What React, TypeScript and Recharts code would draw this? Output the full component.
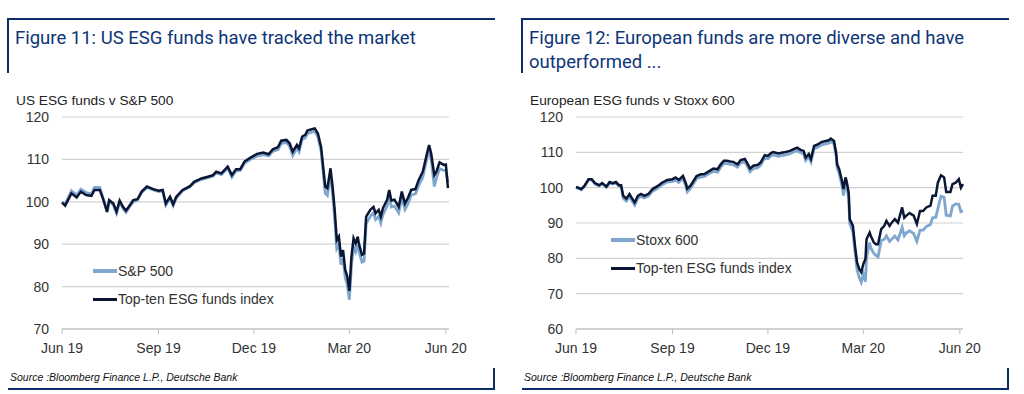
import { CartesianGrid, Line, LineChart, XAxis, YAxis } from "recharts";

const dayTicks = [0, 92, 183, 274, 366];
const monthLabels = ["Jun 19", "Sep 19", "Dec 19", "Mar 20", "Jun 20"];

// Figure 11 – days since start of Jun 19
const usDays = [
  0, 3, 9, 14, 18, 23, 28, 31, 36, 39, 43, 45, 49, 52, 55, 58, 61, 65, 68, 72, 76, 81, 87, 92, 96,
  99, 103, 106, 109, 115, 122, 126, 133, 139, 144, 147, 152, 158, 162, 166, 170, 174, 179, 186,
  192, 197, 201, 206, 209, 214, 217, 220, 224, 226, 229, 232, 234, 238, 241, 244, 247, 249, 251,
  253, 255, 256, 258, 260, 262, 264, 266, 268, 270, 272, 274, 276, 278, 280, 282, 283, 286, 288,
  290, 294, 297, 299, 302, 304, 306, 310, 312, 314, 317, 321, 324, 327, 330, 333, 337, 340, 344,
  348, 350, 352, 355, 357, 360, 364, 366, 368,
];
const usEsg = [
  99.8, 99.1, 102.0, 101.0, 102.4, 101.6, 101.4, 102.8, 102.8, 100.8, 97.7, 100.4, 99.6, 97.7,
  100.3, 98.9, 97.9, 99.3, 100.4, 100.6, 102.4, 103.6, 103.0, 102.6, 102.8, 99.6, 101.2, 99.4,
  101.2, 102.8, 103.7, 104.7, 105.5, 105.9, 106.3, 107.1, 106.7, 108.3, 106.3, 107.7, 107.7,
  109.5, 110.3, 111.3, 111.6, 111.2, 112.4, 112.9, 114.4, 114.6, 113.8, 111.8, 113.4, 112.6,
  115.4, 115.8, 116.8, 117.1, 117.3, 116.1, 113.0, 108.3, 103.6, 103.2, 106.3, 107.9, 103.6, 98.1,
  91.0, 91.8, 87.1, 88.6, 84.0, 82.4, 79.0, 87.1, 91.4, 90.2, 91.8, 90.2, 87.5, 87.8, 96.5, 98.1,
  98.8, 97.3, 98.1, 96.5, 98.5, 100.5, 102.8, 100.3, 100.5, 98.8, 102.4, 99.6, 101.0, 102.8, 103.0,
  105.1, 107.1, 111.4, 113.4, 111.4, 106.3, 107.1, 109.3, 108.7, 108.8, 103.2,
];
const sp500 = [
  100.0, 99.4, 102.6, 101.6, 103.0, 102.2, 101.8, 103.4, 103.4, 101.0, 97.5, 100.2, 99.2, 97.3,
  100.0, 98.5, 97.5, 99.0, 100.0, 100.4, 102.2, 103.4, 102.8, 102.4, 102.5, 99.2, 100.9, 99.1,
  100.9, 102.6, 103.5, 104.5, 105.3, 105.7, 106.0, 106.8, 106.4, 107.9, 105.8, 107.3, 107.4,
  109.1, 109.9, 110.8, 111.1, 110.8, 111.9, 112.3, 113.7, 114.0, 113.1, 110.9, 112.7, 111.8,
  114.7, 115.1, 116.1, 116.4, 116.6, 115.3, 112.0, 107.0, 102.0, 101.5, 104.8, 106.2, 102.0, 96.0,
  89.0, 90.0, 85.2, 86.6, 82.2, 80.4, 76.9, 85.0, 89.6, 88.2, 89.8, 88.4, 85.8, 86.0, 94.8, 96.6,
  97.4, 95.8, 96.6, 95.0, 97.0, 99.0, 101.3, 98.8, 99.0, 97.4, 100.9, 98.2, 99.6, 101.6, 101.9,
  103.8, 105.8, 110.3, 112.3, 110.0, 103.6, 105.6, 107.8, 107.4, 107.4, 104.6,
];

// Figure 12
const euDays = [
  0, 2, 5, 8, 12, 15, 18, 22, 25, 29, 32, 35, 38, 41, 43, 45, 48, 51, 53, 56, 59, 62, 65, 69, 73,
  78, 82, 87, 92, 95, 98, 102, 105, 106, 109, 111, 115, 119, 122, 127, 131, 135, 138, 141, 144,
  147, 150, 154, 157, 161, 163, 166, 169, 173, 176, 180, 183, 186, 188, 193, 196, 200, 204, 208,
  211, 214, 217, 219, 222, 224, 227, 231, 234, 238, 241, 243, 246, 248, 249, 251, 254, 255, 257,
  258, 260, 261, 264, 266, 268, 270, 272, 274, 276, 277, 280, 281, 284, 286, 288, 291, 294, 296,
  299, 301, 304, 307, 311, 313, 315, 318, 322, 325, 328, 331, 334, 338, 340, 343, 345, 348, 351,
  353, 357, 359, 362, 365, 367, 369,
];
const euEsg = [
  100.2, 100.0, 99.6, 100.5, 102.4, 102.4, 101.3, 100.7, 101.3, 100.3, 101.6, 101.3, 101.6, 100.7,
  100.7, 97.7, 96.9, 98.2, 97.2, 95.8, 97.7, 98.2, 97.7, 98.2, 99.6, 100.5, 101.4, 102.2, 102.4,
  102.9, 102.2, 103.3, 101.0, 99.7, 100.5, 101.4, 103.3, 103.8, 103.8, 104.7, 105.4, 105.2, 106.6,
  107.6, 107.6, 107.4, 107.3, 106.6, 107.8, 108.1, 107.1, 105.4, 106.2, 106.4, 107.1, 109.2,
  109.0, 109.8, 110.1, 109.7, 109.9, 110.1, 110.4, 111.0, 111.3, 110.7, 110.4, 108.5, 109.5,
  108.1, 111.8, 112.3, 112.9, 113.2, 113.4, 113.9, 113.2, 109.9, 106.6, 105.2, 101.4, 99.6, 102.9,
  101.9, 98.6, 91.1, 89.2, 83.6, 78.8, 77.0, 76.1, 78.4, 79.8, 85.4, 87.3, 86.4, 84.5, 84.0, 84.0,
  88.3, 89.2, 90.6, 89.2, 90.1, 91.1, 90.1, 94.4, 91.5, 92.1, 92.8, 92.1, 89.7, 93.4, 93.4, 94.4,
  94.9, 97.7, 97.7, 101.4, 103.5, 102.9, 98.8, 98.8, 101.0, 101.4, 102.4, 100.0, 101.0,
];
const stoxx600 = [
  100.0, 99.8, 99.4, 100.3, 102.2, 102.2, 101.1, 100.5, 101.1, 100.1, 101.3, 101.0, 101.3, 100.4,
  100.3, 97.0, 96.2, 97.5, 96.5, 95.1, 97.0, 97.5, 97.1, 97.6, 99.0, 99.9, 100.8, 101.6, 101.8,
  102.2, 101.5, 102.6, 100.2, 98.8, 99.7, 100.6, 102.6, 103.0, 103.1, 104.0, 104.6, 104.4, 105.8,
  106.8, 106.8, 106.6, 106.5, 105.8, 107.0, 107.3, 106.3, 104.5, 105.4, 105.6, 106.3, 108.4,
  108.2, 109.0, 109.3, 108.9, 109.1, 109.3, 109.6, 110.2, 110.5, 109.9, 109.6, 107.7, 108.7,
  107.3, 111.0, 111.5, 112.1, 112.4, 112.6, 113.1, 112.4, 109.0, 105.6, 104.0, 100.0, 97.8, 101.3,
  100.3, 97.0, 89.8, 87.5, 81.8, 76.8, 74.6, 73.2, 75.5, 73.4, 80.0, 84.5, 83.0, 81.4, 80.8, 80.4,
  85.0, 85.4, 86.4, 84.8, 85.4, 86.3, 85.2, 88.8, 86.4, 87.2, 87.8, 87.0, 84.8, 88.0, 88.0, 89.0,
  89.6, 91.5, 91.6, 94.0, 97.6, 97.2, 92.2, 92.0, 94.8, 95.4, 95.3, 93.2, 93.4,
];

const usRows = usDays.map((d, i) => ({ day: d, esg: usEsg[i], index: sp500[i] }));
const euRows = euDays.map((d, i) => ({ day: d, esg: euEsg[i], index: stoxx600[i] }));

const NAVY = "#0c2d66";
const TITLE = "#0d3577";
const LIGHT = "#7ea6cf";
const DARK = "#0a1633";
const SANS = "'Liberation Sans', Arial, sans-serif";

type PanelProps = {
  x: number;
  title: string[];
  subtitle: string;
  rows: { day: number; esg: number; index: number }[];
  yTicks: number[];
  indexLabel: string;
  legendX: number;
  legendY: number;
};

function Panel({ x, title, subtitle, rows, yTicks, indexLabel, legendX, legendY }: PanelProps) {
  const fmtMonth = (v: number) => monthLabels[dayTicks.indexOf(v)] ?? "";
  return (
    <>
      {/* frame */}
      <div style={{ position: "absolute", left: x + 7, top: 18, width: 488, height: 2, background: NAVY }} />
      <div style={{ position: "absolute", left: x + 7, top: 18, width: 2, height: 55, background: NAVY }} />
      <div style={{ position: "absolute", left: x + 8, top: 388, width: 487, height: 2, background: NAVY }} />
      <div style={{ position: "absolute", left: x + 493, top: 368, width: 2, height: 22, background: NAVY }} />
      <div
        style={{
          position: "absolute",
          left: x + 15,
          top: 26,
          width: 480,
          fontFamily: "Roboto, sans-serif",
          fontSize: 18.5,
          lineHeight: "24px",
          color: TITLE,
          whiteSpace: "nowrap",
        }}
      >
        {title.map((t) => (
          <div key={t}>{t}</div>
        ))}
      </div>
      <div
        style={{ position: "absolute", left: x + 16, top: 93, fontFamily: SANS, fontSize: 13.7, lineHeight: "16px", color: "#222" }}
      >
        {subtitle}
      </div>
      <div
        style={{
          position: "absolute",
          left: x + 10,
          top: 371,
          fontFamily: SANS,
          fontSize: 10.5,
          fontStyle: "italic",
          lineHeight: "12px",
          color: "#111",
        }}
      >
        Source :Bloomberg Finance L.P., Deutsche Bank
      </div>

      <div style={{ position: "absolute", left: x, top: 0 }}>
        <LineChart width={512} height={394} data={rows} margin={{ top: 117, right: 63, bottom: 35, left: 10 }}>
          <CartesianGrid vertical={false} stroke="#d2d2d2" strokeWidth={1.2} />
          <XAxis
            dataKey="day"
            type="number"
            domain={[0, 369]}
            ticks={dayTicks}
            tickFormatter={fmtMonth}
            tick={{ fontSize: 14, fill: "#333", fontFamily: SANS }}
            stroke="#bdbdbd"
            tickSize={5}
            tickMargin={9}
            height={30}
          />
          <YAxis
            type="number"
            domain={[yTicks[0], yTicks[yTicks.length - 1]]}
            ticks={yTicks}
            tick={{ fontSize: 14, fill: "#333", fontFamily: SANS }}
            axisLine={false}
            tickLine={false}
            tickMargin={7}
            width={52}
          />
          <Line dataKey="index" stroke={LIGHT} strokeWidth={2.8} dot={false} isAnimationActive={false} />
          <Line dataKey="esg" stroke={DARK} strokeWidth={2.5} dot={false} isAnimationActive={false} />
        </LineChart>
      </div>

      {/* legend */}
      <div style={{ position: "absolute", left: x + legendX, top: legendY - 2, width: 24, height: 4, background: LIGHT }} />
      <div
        style={{ position: "absolute", left: x + legendX + 25, top: legendY - 9, fontFamily: SANS, fontSize: 14, lineHeight: "18px", color: "#333" }}
      >
        {indexLabel}
      </div>
      <div style={{ position: "absolute", left: x + legendX, top: legendY + 27, width: 24, height: 3, background: DARK }} />
      <div
        style={{ position: "absolute", left: x + legendX + 25, top: legendY + 19, fontFamily: SANS, fontSize: 14, lineHeight: "18px", color: "#333" }}
      >
        Top-ten ESG funds index
      </div>
    </>
  );
}

export default function App() {
  return (
    <div style={{ position: "absolute", left: 0, top: 0, width: 1024, height: 394, background: "#fff", overflow: "hidden" }}>
      <Panel
        x={0}
        title={["Figure 11: US ESG funds have tracked the market"]}
        subtitle="US ESG funds v S&P 500"
        rows={usRows}
        yTicks={[70, 80, 90, 100, 110, 120]}
        indexLabel="S&P 500"
        legendX={93}
        legendY={271}
      />
      <Panel
        x={514}
        title={["Figure 12: European funds are more diverse and have", "outperformed ..."]}
        subtitle="European ESG funds v Stoxx 600"
        rows={euRows}
        yTicks={[60, 70, 80, 90, 100, 110, 120]}
        indexLabel="Stoxx 600"
        legendX={97}
        legendY={240}
      />
    </div>
  );
}
